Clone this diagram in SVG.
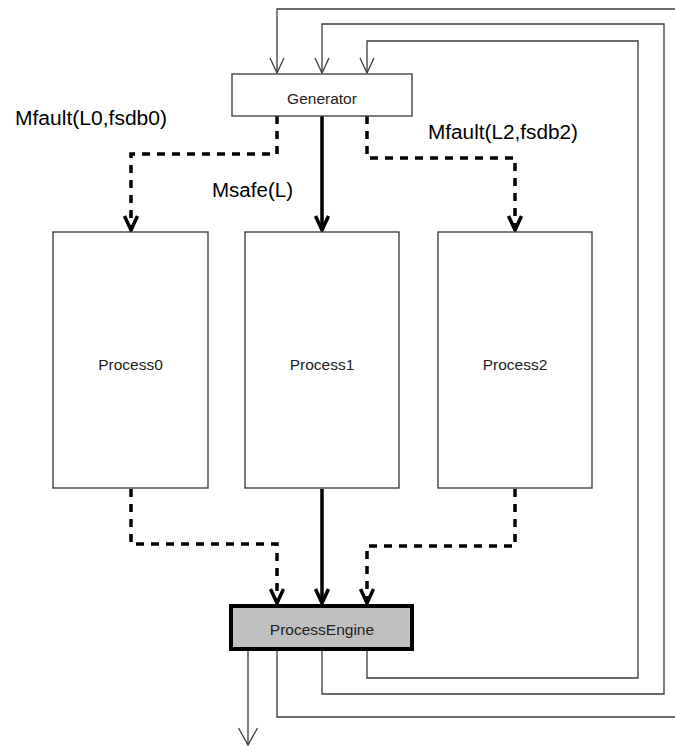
<svg xmlns="http://www.w3.org/2000/svg" width="675" height="746" viewBox="0 0 675 746">
  <style>
    .box { fill: #ffffff; stroke: #444444; stroke-width: 1.4; }
    .engine { fill: #c0c0c0; stroke: #000000; stroke-width: 4; }
    .node-label { font-family: "Liberation Sans", Arial, sans-serif; font-size: 15.5px; fill: #222222; text-anchor: middle; }
    .edge-label { font-family: "Liberation Sans", Arial, sans-serif; font-size: 20px; fill: #000000; }
    .thick { fill: none; stroke: #000000; stroke-width: 3.5; }
    .dashed { fill: none; stroke: #000000; stroke-width: 3.5; stroke-dasharray: 8 7; }
    .thin { fill: none; stroke: #3a3a3a; stroke-width: 1.3; }
  </style>
  <defs>
    <!-- heavy open arrowhead for the message connectors -->
    <marker id="arrow-heavy" markerUnits="userSpaceOnUse" viewBox="-20 -12 26 24" markerWidth="26" markerHeight="24" refX="0" refY="0" orient="auto">
      <path d="M-14,-6.5 L0,0 L-14,6.5" fill="none" stroke="#000000" stroke-width="3.5" stroke-linejoin="miter"/>
    </marker>
    <!-- light open arrowhead for the feedback wires -->
    <marker id="arrow-light" markerUnits="userSpaceOnUse" viewBox="-20 -12 26 24" markerWidth="26" markerHeight="24" refX="0" refY="0" orient="auto">
      <path d="M-15,-7 L0,0 L-15,7" fill="none" stroke="#3a3a3a" stroke-width="1.3"/>
    </marker>
    <marker id="arrow-out" markerUnits="userSpaceOnUse" viewBox="-22 -12 26 24" markerWidth="26" markerHeight="24" refX="0" refY="0" orient="auto">
      <path d="M-17,-9.5 L0,0 L-17,9.5" fill="none" stroke="#3a3a3a" stroke-width="1.3"/>
    </marker>
  </defs>

  <!-- connectors -->
  <g id="connectors">
    <!-- Generator to processes -->
    <path class="dashed" d="M277,116 V154 H131 V230" marker-end="url(#arrow-heavy)"/>
    <path class="thick" d="M322,116 V230" marker-end="url(#arrow-heavy)"/>
    <path class="dashed" d="M367,116 V158 H515 V230" marker-end="url(#arrow-heavy)"/>
    <!-- processes to ProcessEngine -->
    <path class="dashed" d="M131,489 V544 H277 V603" marker-end="url(#arrow-heavy)"/>
    <path class="thick" d="M322,489 V603" marker-end="url(#arrow-heavy)"/>
    <path class="dashed" d="M515,489 V546 H367 V603" marker-end="url(#arrow-heavy)"/>
    <!-- feedback wires from ProcessEngine back to Generator -->
    <path class="thin" d="M277,651 V717 H676"/>
    <path class="thin" d="M676,9 H277 V73" marker-end="url(#arrow-light)"/>
    <path class="thin" d="M322,651 V694 H664 V24 H322 V73" marker-end="url(#arrow-light)"/>
    <path class="thin" d="M367,651 V678 H638 V41 H367 V73" marker-end="url(#arrow-light)"/>
    <!-- output -->
    <path class="thin" d="M248,651 V745" marker-end="url(#arrow-out)"/>
  </g>

  <!-- edge labels -->
  <g id="labels">
    <text class="edge-label" x="15" y="125" textLength="152" lengthAdjust="spacingAndGlyphs">Mfault(L0,fsdb0)</text>
    <text class="edge-label" x="212" y="197" textLength="81" lengthAdjust="spacingAndGlyphs">Msafe(L)</text>
    <text class="edge-label" x="428" y="139" textLength="150" lengthAdjust="spacingAndGlyphs">Mfault(L2,fsdb2)</text>
  </g>

  <g id="generator">
    <rect class="box" x="232" y="74" width="180" height="42"/>
    <text class="node-label" x="322" y="104">Generator</text>
  </g>

  <g id="process0">
    <rect class="box" x="53" y="232" width="155" height="256"/>
    <text class="node-label" x="130.5" y="370">Process0</text>
  </g>

  <g id="process1">
    <rect class="box" x="245" y="232" width="154" height="256"/>
    <text class="node-label" x="322" y="370">Process1</text>
  </g>

  <g id="process2">
    <rect class="box" x="438" y="232" width="154" height="256"/>
    <text class="node-label" x="515" y="370">Process2</text>
  </g>

  <g id="process-engine">
    <rect class="engine" x="231" y="606" width="181" height="43"/>
    <text class="node-label" x="322" y="635">ProcessEngine</text>
  </g>
</svg>
